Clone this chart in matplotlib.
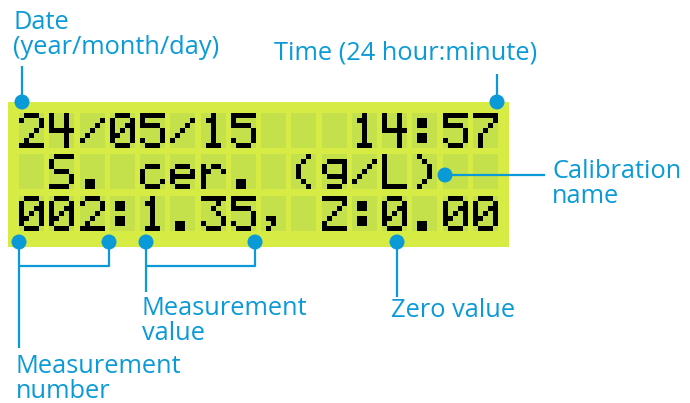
"""
LCD display layout with callouts
"""
import numpy as np
import matplotlib
matplotlib.use("Agg")
import matplotlib.pyplot as plt
from matplotlib.patches import Rectangle, Circle
from matplotlib.colors import ListedColormap

# display content, 16 x 3 characters
lcd_lines = ["24/05/15   14:57",
             " S. cer. (g/L)  ",
             "002:1.35, Z:0.00"]

# callout labels
date_label = ["Date", "(year/month/day)"]
time_label = "Time (24 hour:minute)"
calib_label = ["Calibration", "name"]
meas_num_label = ["Measurement", "number"]
meas_val_label = ["Measurement", "value"]
zero_label = "Zero value"

# 5x7 dot-matrix glyphs
GLYPHS = {
    '0': ["01110", "10001", "10011", "10101", "11001", "10001", "01110"],
    '1': ["00100", "01100", "00100", "00100", "00100", "00100", "01110"],
    '2': ["01110", "10001", "00001", "00010", "00100", "01000", "11111"],
    '3': ["11111", "00010", "00100", "00010", "00001", "10001", "01110"],
    '4': ["10010", "10010", "10010", "11111", "00010", "00010", "00010"],
    '5': ["11111", "10000", "11110", "00001", "00001", "10001", "01110"],
    '7': ["11111", "00001", "00010", "00100", "01000", "01000", "01000"],
    '/': ["00000", "00001", "00010", "00100", "01000", "10000", "00000"],
    ':': ["00000", "01100", "01100", "00000", "01100", "01100", "00000"],
    '.': ["00000", "00000", "00000", "00000", "00000", "01100", "01100"],
    ',': ["00000", "00000", "00000", "00000", "01100", "00100", "01000"],
    'S': ["01111", "10000", "10000", "01110", "00001", "00001", "11110"],
    'c': ["00000", "00000", "01110", "10000", "10000", "10001", "01110"],
    'e': ["00000", "00000", "01110", "10001", "11111", "10000", "01110"],
    'r': ["00000", "00000", "10110", "11001", "10000", "10000", "10000"],
    '(': ["00010", "00100", "01000", "01000", "01000", "00100", "00010"],
    ')': ["01000", "00100", "00010", "00010", "00010", "00100", "01000"],
    'g': ["00000", "01111", "10001", "10001", "01111", "00001", "01110"],
    'L': ["10000", "10000", "10000", "10000", "10000", "10000", "11111"],
    'Z': ["11111", "00001", "00010", "00100", "01000", "10000", "11111"],
    ' ': ["00000"] * 7,
}

PANEL = "#d6eb44"
CELL = "#c4e04a"
BLUE = "#0a9ad8"
FONT = "Open Sans"
fs = 18.3

fig = plt.figure(figsize=(6.9, 4.03), dpi=100)
ax = fig.add_axes([0, 0, 1, 1])

# panel
ax.add_patch(Rectangle((8, 102), 501, 145, facecolor=PANEL, edgecolor="none", zorder=1))

x0, y0 = 19, 113
pitch_x, pitch_y = 30.25, 41.5
cw, ch = 25, 35
cmap = ListedColormap([CELL, "black"])
for r, line in enumerate(lcd_lines):
    for c, chr_ in enumerate(line):
        bits = np.array([[int(b) for b in row] for row in GLYPHS[chr_]])
        left = x0 + c * pitch_x
        top = y0 + r * pitch_y
        ax.imshow(bits, cmap=cmap, vmin=0, vmax=1, interpolation="nearest",
                  extent=(left, left + cw, top + ch, top), zorder=2)
ax.set_xlim(0, 690)
ax.set_ylim(403, 0)
ax.set_aspect("auto")
ax.axis("off")


def dot(x, y):
    ax.add_patch(Circle((x, y), 7.5, facecolor=BLUE, edgecolor="none", zorder=5))


def line(xs, ys):
    ax.plot(xs, ys, color=BLUE, lw=1.6, solid_capstyle="butt", zorder=4)


kw = dict(color=BLUE, fontsize=fs, family=FONT, va="baseline", ha="left")

# date
line([22, 22], [66, 102])
dot(22, 102)
ax.text(13, 29, date_label[0], **kw)
ax.text(13, 54, date_label[1], **kw)

# time
line([497, 497], [74, 102])
dot(497, 102)
ax.text(274, 60, time_label, **kw)

# calibration name
line([445, 545], [175, 175])
dot(445, 175)
ax.text(552, 178, calib_label[0], **kw)
ax.text(552, 203, calib_label[1], **kw)

# measurement number
line([19, 19], [242, 348])
line([19, 109, 109], [266, 266, 242])
dot(19, 242)
dot(109, 242)
ax.text(16, 373, meas_num_label[0], **kw)
ax.text(16, 398, meas_num_label[1], **kw)

# measurement value
line([146, 146], [242, 292])
line([146, 255, 255], [266, 266, 242])
dot(146, 242)
dot(255, 242)
ax.text(142, 315, meas_val_label[0], **kw)
ax.text(142, 340, meas_val_label[1], **kw)

# zero value
line([397, 397], [242, 297])
dot(397, 242)
ax.text(391, 317, zero_label, **kw)

fig.savefig("out.png", dpi=100)
